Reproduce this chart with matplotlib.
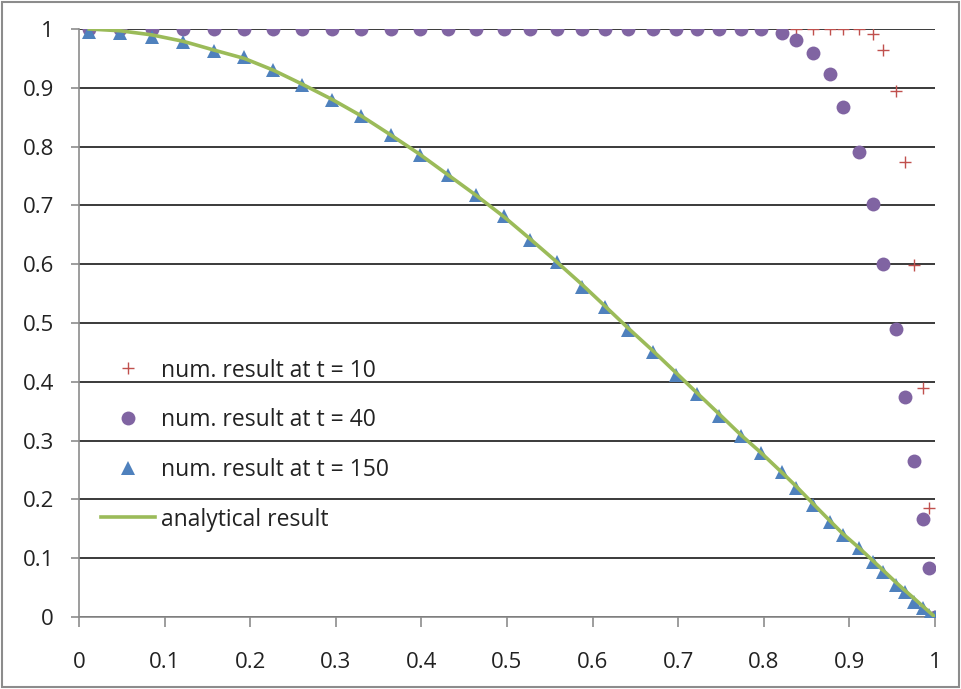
import matplotlib
matplotlib.use("Agg")
import matplotlib.pyplot as plt
from matplotlib.patches import Rectangle

# node positions (shared by all series)
x_nodes = [0.012, 0.048, 0.085, 0.122, 0.158, 0.193, 0.227, 0.261, 0.296, 0.330,
           0.364, 0.398, 0.431, 0.464, 0.497, 0.527, 0.558, 0.588, 0.615, 0.641,
           0.671, 0.697, 0.722, 0.748, 0.773, 0.797, 0.821, 0.838, 0.858, 0.877,
           0.892, 0.911, 0.928, 0.939, 0.955, 0.965, 0.976, 0.986, 0.993, 1.000]

# t = 10
y_t10 = [1.0] * 32 + [0.991, 0.965, 0.895, 0.773, 0.599, 0.390, 0.185, 0.0]

# t = 40
y_t40 = [1.0] * 26 + [0.993, 0.981, 0.959, 0.923, 0.867, 0.790, 0.702, 0.600,
                      0.490, 0.375, 0.266, 0.166, 0.083, 0.0]

# t = 150
y_t150 = [0.995, 0.993, 0.987, 0.978, 0.962, 0.952, 0.930, 0.905, 0.879, 0.852,
          0.820, 0.786, 0.752, 0.718, 0.682, 0.641, 0.604, 0.562, 0.528, 0.488,
          0.451, 0.412, 0.380, 0.341, 0.307, 0.279, 0.247, 0.219, 0.190, 0.162,
          0.139, 0.117, 0.094, 0.077, 0.054, 0.043, 0.026, 0.015, 0.003, 0.0]

# analytical curve
y_analytic = [1.000, 0.997, 0.990, 0.979, 0.964, 0.950, 0.930, 0.906, 0.880, 0.852,
              0.820, 0.787, 0.752, 0.717, 0.680, 0.643, 0.604, 0.565, 0.528, 0.492,
              0.452, 0.416, 0.381, 0.345, 0.310, 0.279, 0.246, 0.222, 0.192, 0.164,
              0.142, 0.118, 0.095, 0.080, 0.058, 0.045, 0.031, 0.018, 0.009, 0.0]

labels = ["num. result at t = 10", "num. result at t = 40",
          "num. result at t = 150", "analytical result"]

plt.rcParams['font.family'] = ['Open Sans', 'DejaVu Sans']

fig = plt.figure(figsize=(9.62, 6.89), dpi=100)
ax = fig.add_axes([79 / 962, 72 / 689, 856 / 962, 588 / 689])

ax.plot(x_nodes, y_t10, linestyle='none', marker='+', color='#C0504D',
        markersize=9, markeredgewidth=1.0, label=labels[0], zorder=3)
ax.plot(x_nodes, y_t40, linestyle='none', marker='o', color='#8064A2',
        markersize=10, markeredgewidth=0, label=labels[1], zorder=4)
ax.plot(x_nodes, y_t150, linestyle='none', marker='^', color='#4F81BD',
        markersize=10, markeredgewidth=0, label=labels[2], zorder=5)
ax.plot(x_nodes, y_analytic, color='#9BBB59', linewidth=2.6,
        label=labels[3], zorder=6)

ax.set_xlim(0, 1)
ax.set_ylim(0, 1)
ax.set_xticks([i / 10 for i in range(11)])
ax.set_yticks([i / 10 for i in range(11)])
ax.set_xticklabels(["0", "0.1", "0.2", "0.3", "0.4", "0.5", "0.6", "0.7", "0.8", "0.9", "1"])
ax.set_yticklabels(["0", "0.1", "0.2", "0.3", "0.4", "0.5", "0.6", "0.7", "0.8", "0.9", "1"])

for s in ['top', 'right']:
    ax.spines[s].set_visible(False)
for s in ['left', 'bottom']:
    ax.spines[s].set_color('#8c8c8c')
    ax.spines[s].set_linewidth(1.2)

ax.tick_params(axis='x', direction='out', length=7, width=1.2, color='#8c8c8c',
               pad=18, labelsize=16, labelcolor='#222222')
ax.tick_params(axis='y', direction='out', length=6, width=1.2, color='#8c8c8c',
               pad=12, labelsize=16, labelcolor='#222222')

ax.yaxis.grid(True, color='#3a3a3a', linewidth=1.4, zorder=1)
ax.set_axisbelow(True)

ax.legend(loc='center left', bbox_to_anchor=(0.012, 0.2925), frameon=False,
          fontsize=16.5, numpoints=1, borderpad=0, handlelength=2.35,
          handletextpad=0.26, labelspacing=1.12, labelcolor='#222222')

fig.patches.append(Rectangle((0.002, 0.003), 0.995, 0.994, transform=fig.transFigure,
                             fill=False, edgecolor='#8c8c8c', linewidth=1.5))

fig.savefig('out.png', dpi=100)
